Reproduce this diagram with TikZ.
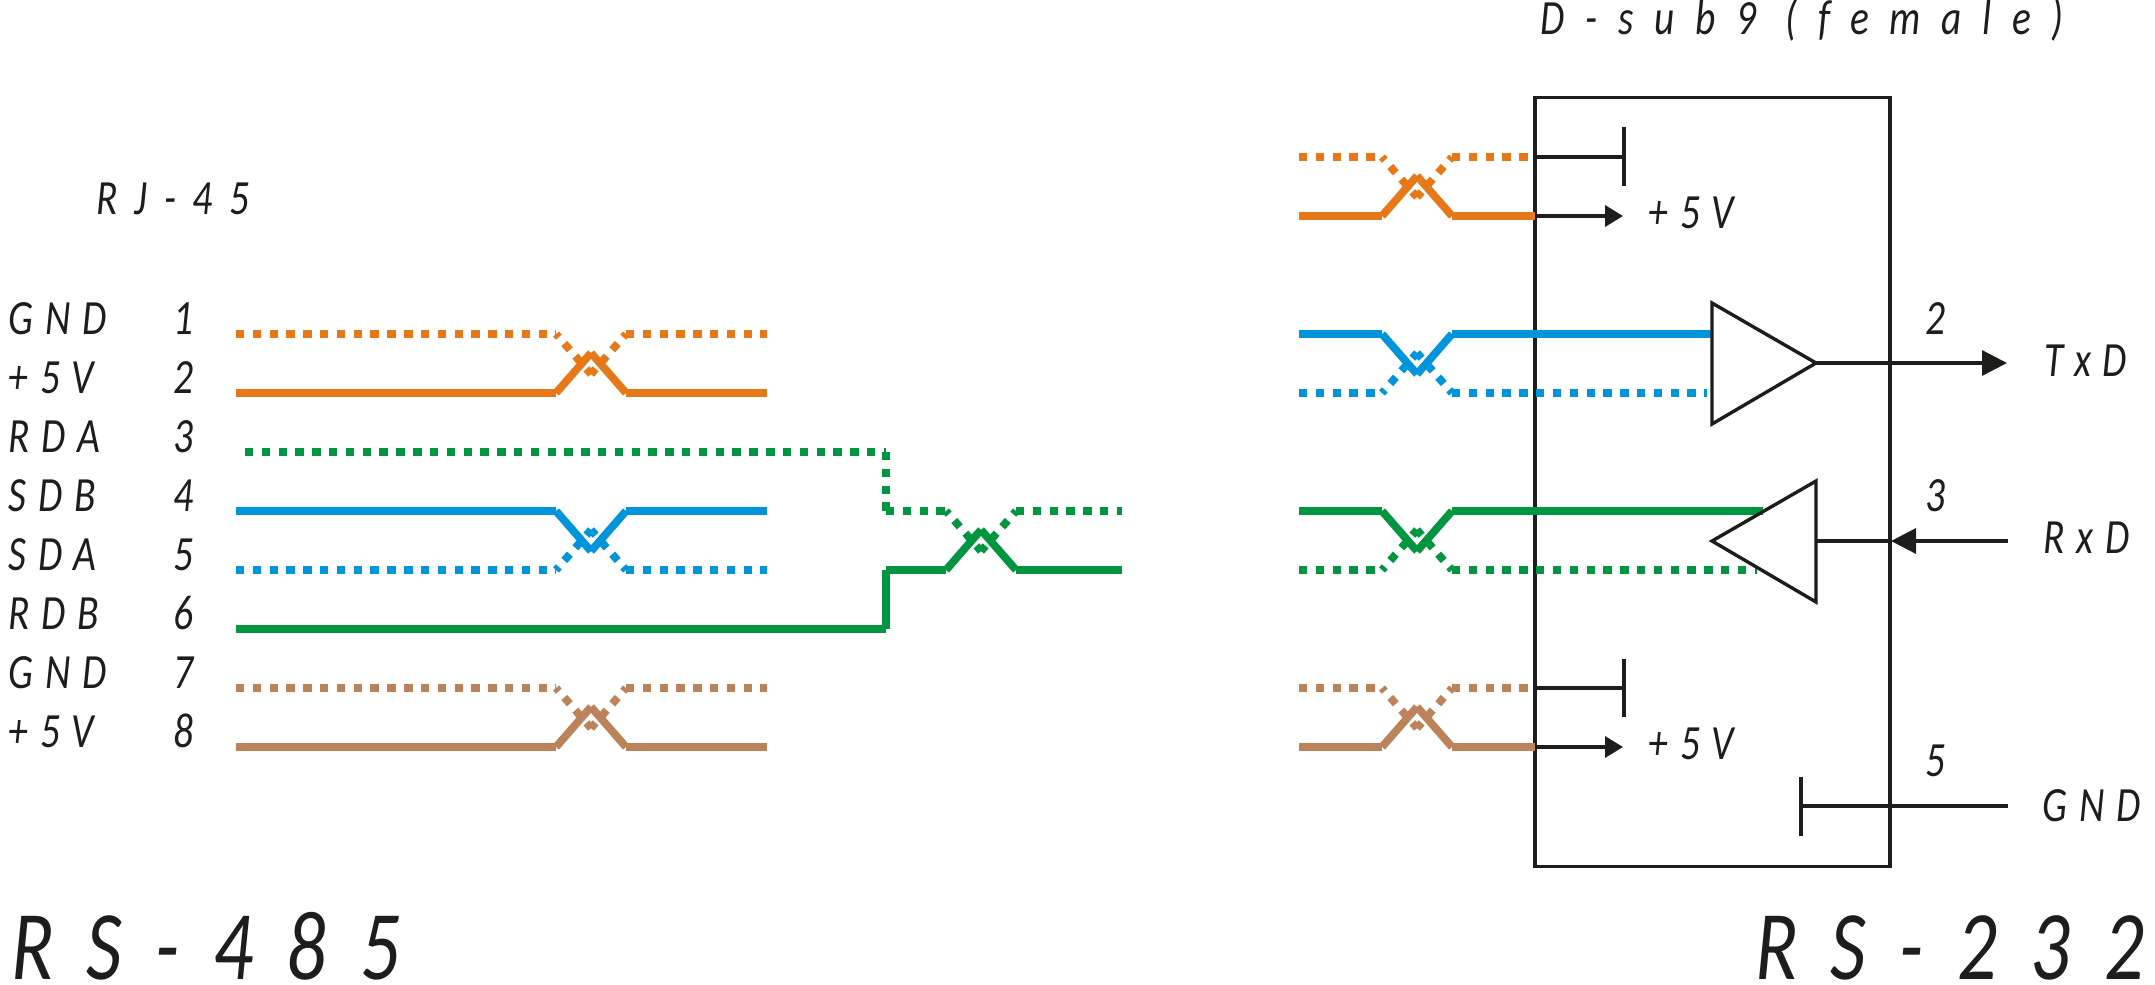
\documentclass[tikz,border=0pt]{standalone}
\usepackage{fontspec}
\usetikzlibrary{arrows.meta}
\newfontfamily\labelfont[LetterSpace=24,FakeStretch=0.8]{Carlito}
\newfontfamily\widefont[LetterSpace=34,FakeStretch=0.8]{Carlito}
\newfontfamily\titlefont[LetterSpace=42,FakeStretch=0.8]{Carlito}
\definecolor{wireorange}{HTML}{E67817}
\definecolor{wireblue}{HTML}{0094DB}
\definecolor{wiregreen}{HTML}{009640}
\definecolor{wirebrown}{HTML}{BC8259}
\definecolor{inkblack}{HTML}{1D1D1B}
\tikzset{
  solidwire/.style={line width=0.078cm},
  dotwire/.style={line width=0.078cm,dash pattern=on 0.084cm off 0.084cm},
  slantwire/.style={dotwire,dash phase=0.042cm},
  thinline/.style={line width=0.034cm,color=inkblack},
  smalltext/.style={anchor=base west,inner sep=0pt,color=inkblack,font=\labelfont\itshape\fontsize{14}{14}\selectfont},
  widetext/.style={anchor=base west,inner sep=0pt,color=inkblack,font=\widefont\itshape\fontsize{14}{14}\selectfont},
  toptext/.style={anchor=base west,inner sep=0pt,color=inkblack,font=\titlefont\itshape\fontsize{14}{14}\selectfont},
  bigtext/.style={anchor=base west,inner sep=0pt,color=inkblack,font=\widefont\itshape\fontsize{28}{28}\selectfont},
  bighead/.style={-{Triangle[length=0.25cm,width=0.25cm]}},
  smallhead/.style={-{Triangle[length=0.18cm,width=0.21cm]}}
}
% #1 name, #2 colour, #3 start x, #4 middle x, #5 solid end x, #6 dotted end x, #7 solid y, #8 dotted y
\newcommand{\wirepair}[8]{
  \pgfmathsetmacro{\xa}{#4-35}
  \pgfmathsetmacro{\xb}{#4+35}
  \pgfmathsetmacro{\ysm}{#7+0.68*(#8-#7)}
  \pgfmathsetmacro{\ydm}{#8+0.68*(#7-#8)}
  \coordinate (#1s0) at (#3,#7);
  \coordinate (#1s1) at (\xa,#7);
  \coordinate (#1s2) at (#4,\ysm);
  \coordinate (#1s3) at (\xb,#7);
  \coordinate (#1s4) at (#5,#7);
  \coordinate (#1d0) at (#3,#8);
  \coordinate (#1d1) at (\xa,#8);
  \coordinate (#1d2) at (#4,\ydm);
  \coordinate (#1d3) at (\xb,#8);
  \coordinate (#1d4) at (#6,#8);
  \foreach \from/\to in {#1d0/#1d1,#1d3/#1d4}
  \draw[dotwire,color=#2] (\from) -- (\to);
  \foreach \from/\to in {#1d1/#1d2,#1d3/#1d2}
  \draw[slantwire,color=#2] (\from) -- (\to);
  \foreach \from/\to in {#1s0/#1s1,#1s1/#1s2,#1s3/#1s2,#1s3/#1s4}
  \draw[solidwire,color=#2] (\from) -- (\to);
}
\begin{document}
\begin{tikzpicture}
[x=0.01cm,y=-0.01cm]
\useasboundingbox (0,0) rectangle (2155,984);
  \node [draw,thinline,minimum width=3.55cm,minimum height=7.68cm,inner sep=0pt] (box) at (1712.5,482) {};
  % RJ-45 side
  \node [widetext] (rjtitle) at (96,214) {RJ-45};
  \foreach \sig/\pin/\row in {GND/1/334,+5V/2/393,RDA/3/452,SDB/4/511,SDA/5/570,RDB/6/629,GND/7/688,+5V/8/747}{
    \node [smalltext] (sig\pin) at (8,\row) {\sig};
    \node [smalltext] (pin\pin) at (173,\row) {\pin};
  }
  \wirepair{la}{wireorange}{236}{591}{767}{767}{393}{334}
  \wirepair{lb}{wireblue}{236}{591}{767}{767}{511}{570}
  \wirepair{lc}{wirebrown}{236}{591}{767}{767}{747}{688}
  \wirepair{md}{wiregreen}{886}{981}{1122}{1122}{570}{511}
  % green wires to the middle twist
  \coordinate (ga) at (245,452);
  \coordinate (gb) at (886,452);
  \coordinate (gc) at (236,629);
  \coordinate (gd) at (886,629);
  \foreach \from/\to in {ga/gb,gb/mdd0}
  \draw[dotwire,color=wiregreen] (\from) -- (\to);
  \foreach \from/\to in {gc/gd,gd/mds0}
  \draw[solidwire,color=wiregreen] (\from) -- (\to);
  % D-sub9 side
  \node [toptext] (dbtitle) at (1540,34) {D-sub9 (female)};
  \wirepair{ra}{wireorange}{1299}{1417}{1535}{1535}{216}{157}
  \wirepair{rb}{wireblue}{1299}{1417}{1712}{1707}{334}{393}
  \wirepair{rc}{wiregreen}{1299}{1417}{1763}{1757}{511}{570}
  \wirepair{rd}{wirebrown}{1299}{1417}{1535}{1535}{747}{688}
  % ground stubs and +5V outputs
  \foreach \wire/\row/\up/\down in {ra/157/127/186,rd/688/659/717}{
    \coordinate (\wire top) at (1624,\up);
    \coordinate (\wire bot) at (1624,\down);
    \coordinate (\wire end) at (1624,\row);
    \draw[thinline] (\wire top) -- (\wire bot);
    \draw[thinline] (\wire d4) -- (\wire end);
  }
  \coordinate (vcca) at (1623,216);
  \coordinate (vccb) at (1623,747);
  \draw[thinline,smallhead] (ras4) -- (vcca);
  \draw[thinline,smallhead] (rds4) -- (vccb);
  \node [smalltext] (vcctexta) at (1648,228) {+5V};
  \node [smalltext] (vcctextb) at (1648,759) {+5V};
  % driver
  \coordinate (txa) at (1712,303);
  \coordinate (txb) at (1816,363);
  \coordinate (txc) at (1712,424);
  \coordinate (txd) at (2007,363);
  \draw[thinline] (txa) -- (txb) -- (txc) -- cycle;
  \draw[thinline,bighead] (txb) -- (txd);
  \node [smalltext] (pintx) at (1925,334) {2};
  \node [smalltext] (labtx) at (2044,376) {TxD};
  % receiver
  \coordinate (rxa) at (1816,481);
  \coordinate (rxb) at (1712,541);
  \coordinate (rxc) at (1816,602);
  \coordinate (rxd) at (1816,541);
  \coordinate (rxe) at (1891,541);
  \coordinate (rxf) at (2008,541);
  \draw[thinline] (rxa) -- (rxb) -- (rxc) -- cycle;
  \draw[thinline] (rxd) -- (rxe);
  \draw[thinline,bighead] (rxf) -- (rxe);
  \node [smalltext] (pinrx) at (1925,511) {3};
  \node [smalltext] (labrx) at (2043,553) {RxD};
  % ground
  \coordinate (gnda) at (1801,777);
  \coordinate (gndb) at (1801,836);
  \coordinate (gndc) at (1801,806);
  \coordinate (gndd) at (2008,806);
  \draw[thinline] (gnda) -- (gndb);
  \draw[thinline] (gndc) -- (gndd);
  \node [smalltext] (pingnd) at (1925,776) {5};
  \node [smalltext] (labgnd) at (2042,821) {GND};
  % titles
  \node [bigtext] (lefttitle) at (11,979) {RS-485};
  \node [bigtext] (righttitle) at (1755,979) {RS-232};
\end{tikzpicture}
\end{document}
